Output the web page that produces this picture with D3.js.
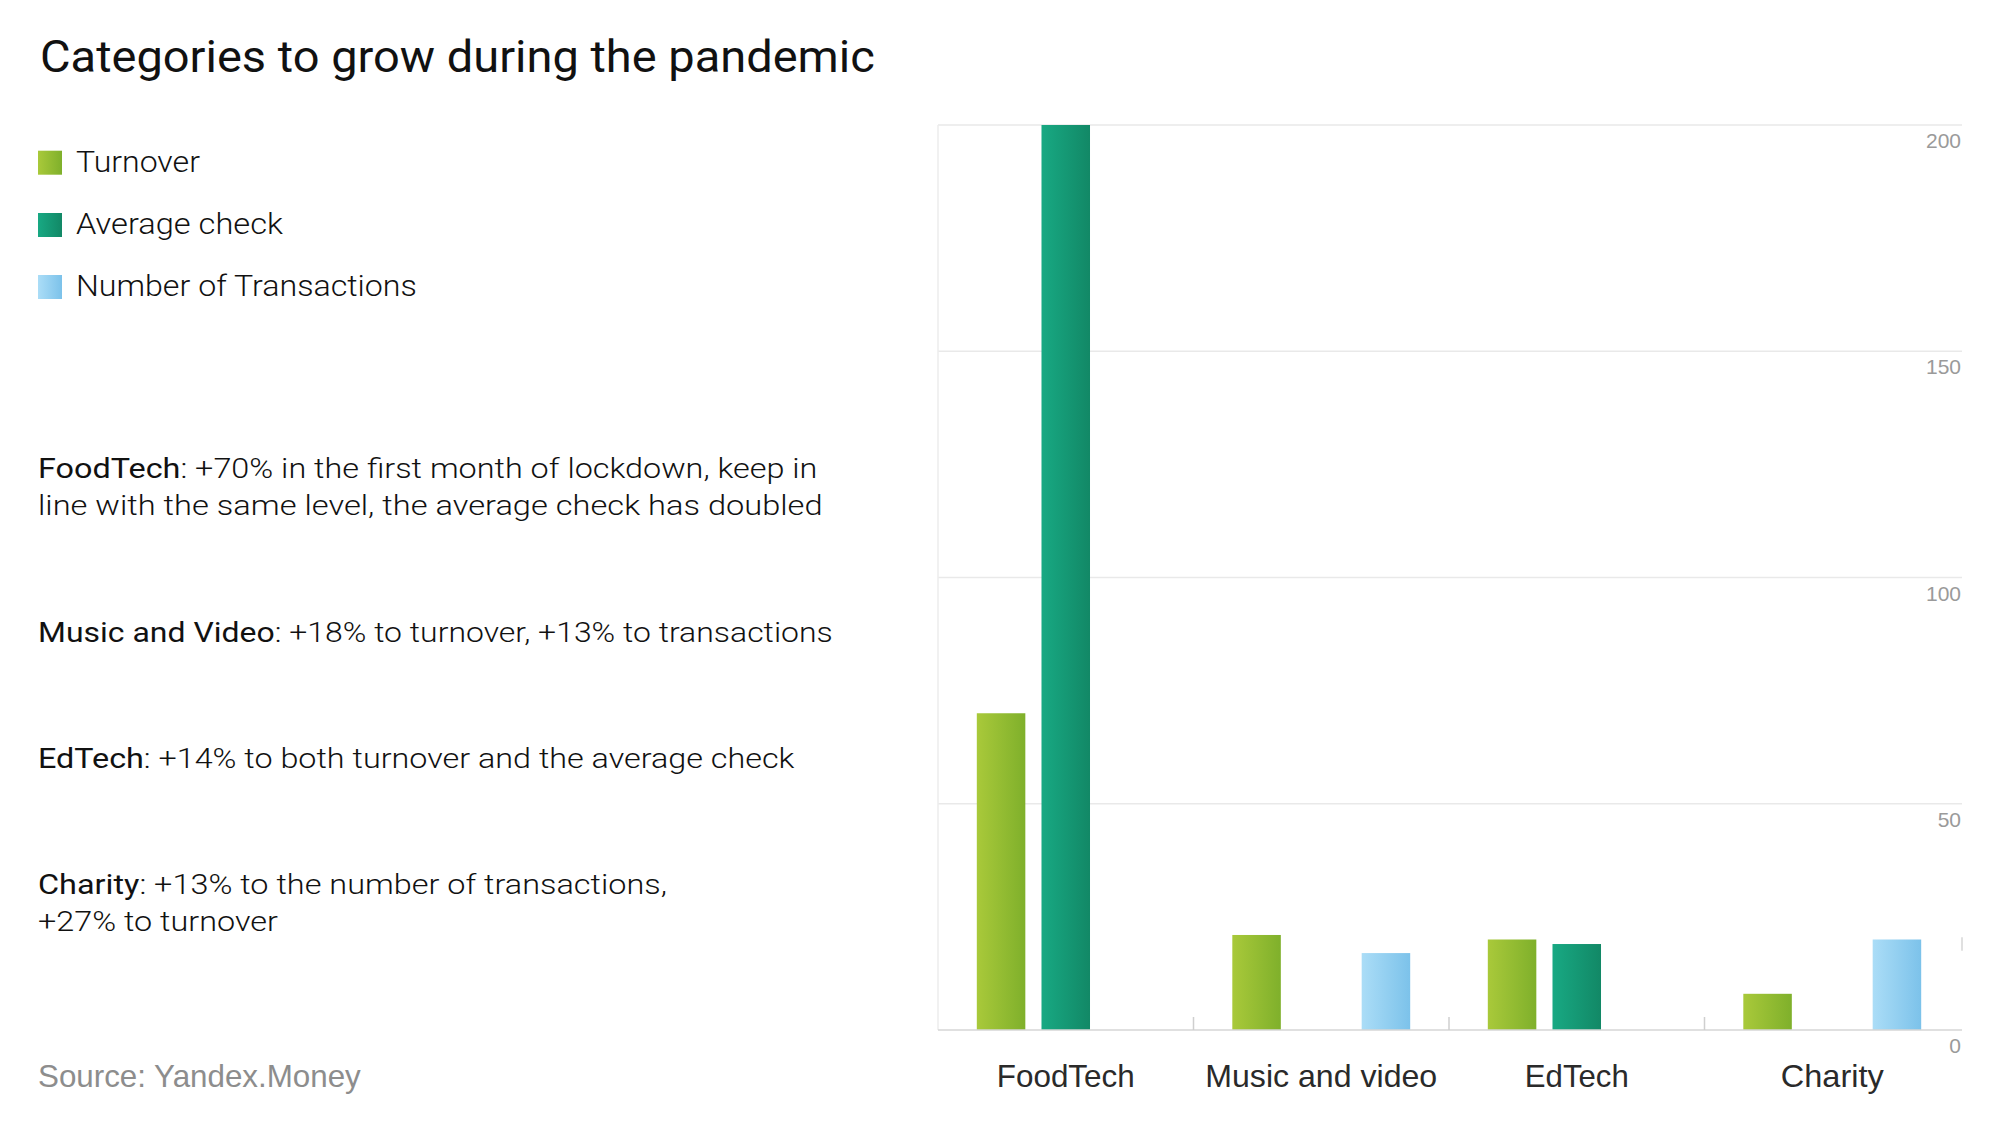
<!DOCTYPE html>
<html>
<head>
<meta charset="utf-8">
<script src="https://cdn.jsdelivr.net/npm/d3@7/dist/d3.min.js"></script>
<style>
  html, body { margin: 0; padding: 0; background: #ffffff; }
  svg { display: block; }
</style>
</head>
<body>
<svg id="chart" width="2000" height="1124"></svg>
<script>
// ---------- DATA ----------
const categories = ["FoodTech", "Music and video", "EdTech", "Charity"];
const seriesNames = ["Turnover", "Average check", "Number of Transactions"];
const turnover = [70, 21, 20, 8];
const averageCheck = [200, null, 19, null];
const transactions = [null, 17, null, 20];
const yTicks = [0, 50, 100, 150, 200];

const titleText = "Categories to grow during the pandemic";
const sourceText = "Source: Yandex.Money";
const noteHeads = ["FoodTech", "Music and Video", "EdTech", "Charity"];
const noteFirstLines = [
  ": +70% in the first month of lockdown, keep in",
  ": +18% to turnover, +13% to transactions",
  ": +14% to both turnover and the average check",
  ": +13% to the number of transactions,"
];
const noteSecondLines = [
  "line with the same level, the average check has doubled",
  null,
  null,
  "+27% to turnover"
];

// ---------- STYLE / LAYOUT ----------
const seriesGradients = [
  ["#a9c93a", "#7fb02b"],
  ["#18a983", "#128866"],
  ["#abddf7", "#7cc2ea"]
];
const svg = d3.select("#chart");
const plot = { left: 938, right: 1960, top: 125, bottom: 1030 };

const defs = svg.append("defs");
seriesGradients.forEach((c, i) => {
  const g = defs.append("linearGradient").attr("id", "grad" + i)
    .attr("x1", "0").attr("y1", "0").attr("x2", "1").attr("y2", "0");
  g.append("stop").attr("offset", "0%").attr("stop-color", c[0]);
  g.append("stop").attr("offset", "100%").attr("stop-color", c[1]);
});

// fit text horizontally to a target width
function fit(sel, x0, target) {
  const node = sel.node();
  const w = node.getComputedTextLength();
  if (w > 0) {
    const s = target / w;
    sel.attr("transform", `translate(${x0},0) scale(${s},1) translate(${-x0},0)`);
  }
}

// ---------- TITLE ----------
const title = svg.append("text")
  .attr("x", 40).attr("y", 72)
  .attr("font-family", "Roboto").attr("font-weight", 400)
  .attr("font-size", 45).attr("fill", "#111")
  .text(titleText);
fit(title, 40, 835);

// ---------- LEGEND ----------
const legendY = [162.7, 225, 287];
const legendW = [124, 207, 341];
seriesNames.forEach((name, i) => {
  svg.append("rect")
    .attr("x", 38).attr("y", legendY[i] - 12)
    .attr("width", 24).attr("height", 24)
    .attr("fill", `url(#grad${i})`);
  const t = svg.append("text")
    .attr("x", 76).attr("y", legendY[i] + 9.5)
    .attr("font-family", "Roboto").attr("font-weight", 300)
    .attr("font-size", 29).attr("fill", "#111")
    .text(name);
  fit(t, 76, legendW[i]);
});

// ---------- NOTES ----------
const noteBase = [478, 642.5, 768.5, 894.5];
const noteW1 = [780, 795, 757, 629];
const noteW2 = [785, null, null, 240];
noteHeads.forEach((head, i) => {
  const t = svg.append("text")
    .attr("x", 38).attr("y", noteBase[i])
    .attr("font-family", "Roboto").attr("font-size", 27).attr("fill", "#111");
  t.append("tspan").attr("font-weight", 400).text(head);
  t.append("tspan").attr("font-weight", 300).text(noteFirstLines[i]);
  fit(t, 38, noteW1[i]);
  if (noteSecondLines[i]) {
    const t2 = svg.append("text")
      .attr("x", 38).attr("y", noteBase[i] + 37)
      .attr("font-family", "Roboto").attr("font-weight", 300)
      .attr("font-size", 27).attr("fill", "#111")
      .text(noteSecondLines[i]);
    fit(t2, 38, noteW2[i]);
  }
});

// ---------- SOURCE ----------
const src = svg.append("text")
  .attr("x", 38).attr("y", 1087)
  .attr("font-family", "Liberation Sans").attr("font-size", 31)
  .attr("fill", "#8d8d8d")
  .text(sourceText);
fit(src, 38, 323);

// ---------- SCALES ----------
const y = d3.scaleLinear().domain([0, 200]).range([plot.bottom, plot.top]);
const x0 = d3.scaleBand().domain(categories).range([plot.left, plot.right]).paddingInner(0).paddingOuter(0);
const x1 = d3.scaleBand().domain(seriesNames).range([0, x0.bandwidth()])
  .paddingInner(0.25).paddingOuter(0.6);

// gridlines
svg.append("g").selectAll("line").data(yTicks.filter(d => d > 0)).join("line")
  .attr("x1", plot.left).attr("x2", plot.right + 2)
  .attr("y1", d => y(d)).attr("y2", d => y(d))
  .attr("stroke", "#e9e9e9").attr("stroke-width", 1.5);

// left border
svg.append("line")
  .attr("x1", plot.left).attr("x2", plot.left)
  .attr("y1", y(200)).attr("y2", y(0))
  .attr("stroke", "#ececec").attr("stroke-width", 1.5);

// y labels (right side, below gridlines)
svg.append("g").selectAll("text").data(yTicks).join("text")
  .attr("x", plot.right + 1).attr("y", d => y(d) + 23)
  .attr("text-anchor", "end")
  .attr("font-family", "Liberation Sans").attr("font-size", 21)
  .attr("fill", "#9a9a9a")
  .text(d => d);

// bars
const data = categories.map((c, i) => ({
  cat: c,
  values: [turnover[i], averageCheck[i], transactions[i]]
}));
const groups = svg.append("g").selectAll("g").data(data).join("g")
  .attr("transform", d => `translate(${x0(d.cat)},0)`);
groups.selectAll("rect")
  .data(d => d.values.map((v, j) => ({ v, j })).filter(e => e.v != null))
  .join("rect")
  .attr("x", e => x1(seriesNames[e.j]))
  .attr("width", x1.bandwidth())
  .attr("y", e => y(e.v))
  .attr("height", e => y(0) - y(e.v))
  .attr("fill", e => `url(#grad${e.j})`);

// baseline
svg.append("line")
  .attr("x1", plot.left).attr("x2", plot.right + 2)
  .attr("y1", y(0)).attr("y2", y(0))
  .attr("stroke", "#d6d6d6").attr("stroke-width", 1.5);

// category separators
svg.append("g").selectAll("line").data(categories.slice(1)).join("line")
  .attr("x1", d => x0(d)).attr("x2", d => x0(d))
  .attr("y1", y(0) - 13).attr("y2", y(0))
  .attr("stroke", "#cfcfcf").attr("stroke-width", 1.5);

// small right-edge mark
svg.append("line")
  .attr("x1", plot.right + 2).attr("x2", plot.right + 2)
  .attr("y1", y(20.5)).attr("y2", y(17.5))
  .attr("stroke", "#d6d6d6").attr("stroke-width", 1.5);

// category labels
const catW = [138, 232, 104, 103];
categories.forEach((c, i) => {
  const cx = x0(c) + x0.bandwidth() / 2;
  const t = svg.append("text")
    .attr("x", cx).attr("y", 1087)
    .attr("text-anchor", "middle")
    .attr("font-family", "Liberation Sans").attr("font-size", 31)
    .attr("fill", "#2a2a2a")
    .text(c);
  fit(t, cx, catW[i]);
});
</script>
</body>
</html>
